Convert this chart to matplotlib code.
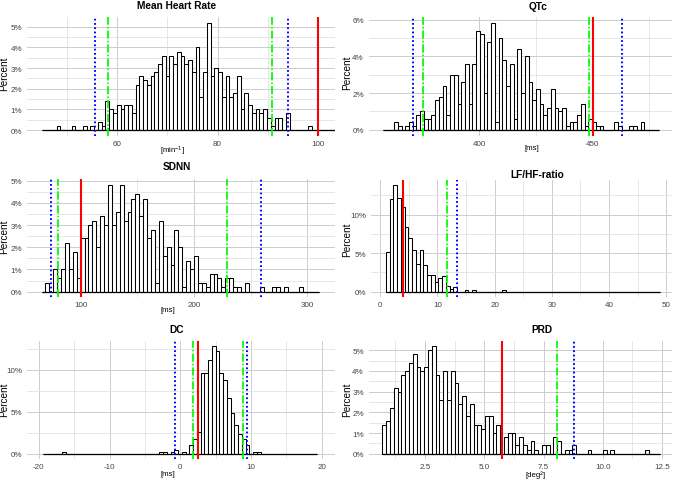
import matplotlib
matplotlib.use('Agg')
import matplotlib.pyplot as plt
import numpy as np

plt.rcParams['font.family'] = ['Liberation Sans', 'DejaVu Sans']
plt.rcParams['mathtext.fontset'] = 'custom'
plt.rcParams['mathtext.rm'] = 'Liberation Sans'
plt.rcParams['mathtext.it'] = 'Liberation Sans:italic'
plt.rcParams['mathtext.bf'] = 'Liberation Sans:bold'

# ---------------- data (percent of subjects per bin) ----------------
hr_range = (45.0, 103.3)
hr_pct = [0, 0, 0, 0, 0.2, 0, 0, 0, 0.2, 0,
          0, 0.2, 0, 0.2, 0, 0.4, 0.2, 1.4, 1.0, 0.8,
          1.2, 1.0, 1.2, 1.2, 0.8, 2.2, 2.6, 2.4, 2.2, 2.6,
          2.8, 3.2, 3.6, 2.6, 3.6, 3.2, 3.8, 3.6, 3.2, 3.4,
          2.8, 4.0, 1.6, 2.8, 5.2, 2.6, 3.0, 2.8, 1.6, 2.6,
          1.6, 1.8, 2.6, 1.0, 1.8, 1.2, 0.8, 1.0, 0.8, 1.0,
          0.6, 0.2, 0.6, 0.6, 0, 0.8, 0, 0, 0, 0,
          0, 0.2, 0, 0, 0, 0, 0, 0]
hr_ref = 100.0
hr_green = [58.2, 90.8]
hr_blue = [55.6, 94.0]

qtc_range = (357.43, 479.4)
qtc_pct = [0, 0, 0, 0.4, 0.2, 0, 0.2, 0.4, 0.2, 0.8,
           1.0, 0.6, 0.6, 0.8, 1.6, 1.8, 2.4, 0.8, 3.0, 3.0,
           1.4, 2.6, 3.6, 1.4, 3.6, 5.4, 5.2, 2.0, 4.8, 5.8,
           0.4, 5.0, 3.8, 2.4, 3.6, 0.6, 4.4, 2.0, 4.0, 2.6,
           1.6, 2.2, 1.4, 0.8, 1.2, 2.2, 1.2, 1.0, 1.2, 0.2,
           0.4, 0.4, 0.8, 1.4, 0.2, 0.6, 0.4, 0.2, 0.2, 0,
           0, 0, 0.4, 0.2, 0, 0, 0.2, 0.2, 0, 0.4,
           0, 0, 0, 0]
qtc_ref = 450.0
qtc_green = [375.3, 448.5]
qtc_blue = [370.9, 462.9]

sdnn_range = (65.52, 310.3)
sdnn_pct = [0, 0.4, 0, 1.0, 0.6, 1.0, 2.2, 1.0, 1.8, 0.6,
            2.4, 2.4, 3.0, 3.2, 2.0, 3.4, 3.0, 4.8, 3.0, 3.6,
            4.8, 3.2, 3.6, 4.2, 4.4, 3.4, 4.2, 2.4, 2.8, 0.4,
            3.2, 1.6, 2.0, 1.2, 2.8, 2.0, 0.2, 1.4, 1.0, 1.6,
            0.4, 0.4, 0.2, 0.8, 0.8, 0.6, 0.2, 0.6, 0.6, 0.2,
            0.2, 0, 0.4, 0, 0, 0, 0.2, 0, 0, 0.2,
            0.2, 0, 0.2, 0, 0, 0, 0.2, 0, 0, 0, 0]
sdnn_ref = 100.0
sdnn_green = [80.3, 229.4]
sdnn_blue = [73.5, 258.9]

lfhf_range = (0.99, 48.85)
lfhf_pct = [5.2, 12.0, 13.8, 12.2, 11.0, 8.4, 7.0, 5.4, 3.6, 5.4,
            3.4, 2.2, 2.2, 1.2, 1.8, 2.0, 0.8, 0.4, 0.6, 0,
            0, 0.2, 0, 0.2, 0, 0, 0, 0, 0, 0,
            0, 0.2, 0, 0, 0, 0, 0, 0, 0, 0,
            0, 0, 0, 0, 0, 0, 0, 0, 0, 0,
            0, 0, 0, 0, 0, 0, 0, 0, 0, 0,
            0, 0, 0, 0, 0, 0, 0, 0, 0, 0,
            0, 0, 0]
lfhf_ref = 4.0
lfhf_green = [11.65]
lfhf_blue = [13.5]

dc_range = (-19.4, 19.3)
dc_pct = [0, 0, 0, 0, 0, 0.2, 0, 0, 0, 0,
          0, 0, 0, 0, 0, 0, 0, 0, 0, 0,
          0, 0, 0, 0, 0, 0, 0, 0, 0, 0,
          0, 0.2, 0.2, 0, 0.2, 0.4, 0, 0.2, 0, 1.0,
          1.8, 2.6, 9.6, 9.6, 11.2, 12.8, 12.2, 9.6, 8.8, 6.6,
          4.8, 3.4, 2.4, 1.8, 1.0, 0, 0.2, 0.2, 0, 0,
          0, 0, 0, 0, 0, 0, 0, 0, 0, 0,
          0, 0, 0]
dc_ref = 2.5
dc_green = [1.75, 8.86]
dc_blue = [-0.8, 9.48]

prd_range = (0.70, 12.41)
prd_pct = [1.4, 1.6, 2.2, 3.2, 3.0, 3.8, 4.0, 4.4, 4.8, 4.2,
           4.0, 4.2, 5.0, 5.2, 3.8, 2.6, 4.0, 2.6, 4.0, 3.4,
           2.4, 2.8, 1.8, 2.4, 1.4, 1.4, 1.2, 1.8, 1.8, 1.0,
           1.4, 0, 0.8, 1.0, 1.0, 0.4, 0.8, 0.4, 0.2, 0.6,
           0.2, 0, 0.4, 0.4, 0, 0.8, 0.6, 0, 0.2, 0.2,
           0.4, 0, 0, 0, 0.2, 0, 0, 0, 0.2, 0,
           0.2, 0, 0, 0, 0, 0, 0, 0, 0, 0.2,
           0, 0, 0]
prd_ref = 5.75
prd_green = [8.06]
prd_blue = [8.8]

# ---------------- drawing ----------------
W, H = 677, 481
fig = plt.figure(figsize=(W / 100, H / 100), dpi=100)
fig.patch.set_facecolor('white')


def ftext(x, y, s, **kw):
    fig.text(x / W, 1 - y / H, s, **kw)


def panel(rect, rng, pct, ref, green, blue, xlim, ylim,
          xmaj, xmin, ymaj, ymin, xfmt):
    l, t, r, b = rect
    ax = fig.add_axes([l / W, 1 - b / H, (r - l) / W, (b - t) / H])
    ax.set_facecolor('white')
    n = len(pct)
    edges = np.linspace(rng[0], rng[1], n + 1)
    ax.bar(edges[:-1], pct, width=np.diff(edges), align='edge',
           color='white', edgecolor='black', linewidth=0.75, zorder=2)
    ax.plot([rng[0], rng[1]], [0, 0], color='black', lw=0.9, zorder=2.1,
            solid_capstyle='butt')
    for g in green:
        ax.axvline(g, color='#00ff00', lw=1.3, zorder=3,
                   linestyle=(0, (4.5, 1.2, 0.8, 1.2)))
    for bl in blue:
        ax.axvline(bl, color='#0000ff', lw=1.4, zorder=3,
                   linestyle=(0, (0.9, 1.3)))
    ax.axvline(ref, color='#ff0000', lw=1.5, zorder=3.2)
    ax.set_xlim(*xlim)
    ax.set_ylim(*ylim)
    ax.set_xticks(xmaj)
    ax.set_xticks(xmin, minor=True)
    ax.set_yticks(ymaj)
    ax.set_yticks(ymin, minor=True)
    ax.set_xticklabels([xfmt(v) for v in xmaj])
    ax.set_yticklabels([f'{v:g}%' for v in ymaj])
    ax.grid(which='major', color='#cdcdcd', lw=0.7, zorder=0)
    ax.grid(which='minor', color='#e2e2e2', lw=0.6, zorder=0)
    ax.set_axisbelow(True)
    ax.tick_params(which='both', length=0, labelsize=5.8,
                   labelcolor='#444444')
    ax.tick_params(axis='x', pad=3)
    ax.tick_params(axis='y', pad=3.5)
    for s in ax.spines.values():
        s.set_visible(False)
    return ax


intf = lambda v: f'{v:g}'
dec1 = lambda v: f'{v:.1f}'

# Mean heart rate
panel((27, 18, 335, 137), hr_range, hr_pct, hr_ref, hr_green, hr_blue,
      (42.09, 103.38), (-0.29, 5.47),
      [60, 80, 100], [50, 70, 90], [0, 1, 2, 3, 4, 5],
      [0.5, 1.5, 2.5, 3.5, 4.5], intf)
# QTc
panel((368.7, 18, 672, 137), qtc_range, qtc_pct, qtc_ref, qtc_green, qtc_blue,
      (351.2, 485.0), (-0.34, 6.15),
      [400, 450], [375, 425, 475], [0, 2, 4, 6], [1, 3, 5], intf)
# SDNN
panel((27, 180, 335, 298), sdnn_range, sdnn_pct, sdnn_ref, sdnn_green,
      sdnn_blue, (52.65, 324.4), (-0.24, 5.08),
      [100, 200, 300], [150, 250], [0, 1, 2, 3, 4, 5],
      [0.5, 1.5, 2.5, 3.5, 4.5], intf)
# LF/HF
panel((371, 181, 672, 298), lfhf_range, lfhf_pct, lfhf_ref, lfhf_green,
      lfhf_blue, (-1.63, 51.03), (-0.69, 14.5),
      [0, 10, 20, 30, 40, 50], [5, 15, 25, 35, 45], [0, 5, 10],
      [2.5, 7.5, 12.5], intf)
# DC
panel((27, 342, 335, 460), dc_range, dc_pct, dc_ref, dc_green, dc_blue,
      (-21.68, 21.88), (-0.63, 13.42),
      [-20, -10, 0, 10, 20], [-15, -5, 5, 15], [0, 5, 10],
      [2.5, 7.5, 12.5], intf)
# PRD
panel((368.7, 342, 672, 460), prd_range, prd_pct, prd_ref, prd_green,
      prd_blue, (0.125, 12.92), (-0.255, 5.45),
      [2.5, 5.0, 7.5, 10.0, 12.5], [1.25, 3.75, 6.25, 8.75, 11.25],
      [0, 1, 2, 3, 4, 5], [0.5, 1.5, 2.5, 3.5, 4.5], dec1)

# titles
tkw = dict(ha='center', va='center', fontsize=7.3, fontweight='bold')
ftext(177, 6, 'Mean Heart Rate', **tkw)
ftext(538, 7, 'QTc', **tkw)
ftext(177, 167, 'SDNN', **tkw)
ftext(537, 175, 'LF/HF-ratio', **tkw)
ftext(177, 330, 'DC', **tkw)
ftext(542, 330, 'PRD', **tkw)

# y labels
ykw = dict(ha='center', va='center', rotation=90, fontsize=7.2)
ftext(4.5, 74, 'Percent', **ykw)
ftext(347, 73, 'Percent', **ykw)
ftext(4.5, 237, 'Percent', **ykw)
ftext(347, 240, 'Percent', **ykw)
ftext(4.5, 400, 'Percent', **ykw)
ftext(347, 400, 'Percent', **ykw)

# x labels
xkw = dict(ha='center', va='center', fontsize=5.6)
ftext(172, 151, '[min$^{-1}$]', **xkw)
ftext(532, 149, '[ms]', **xkw)
ftext(168, 311, '[ms]', **xkw)
ftext(168, 475, '[ms]', **xkw)
ftext(536, 475, '[deg²]', **xkw)

fig.savefig('out.png', dpi=100, facecolor='white')
